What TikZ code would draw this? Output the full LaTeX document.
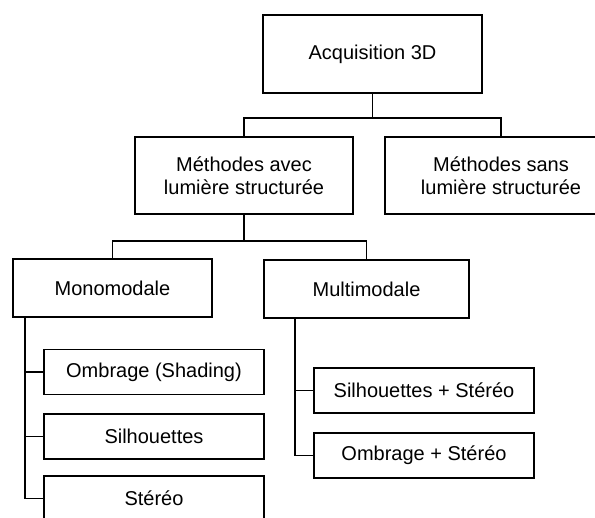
\documentclass[tikz,border=0pt]{standalone}
\usepackage{fontspec}
\setmainfont{Liberation Sans}
\usepackage{tikz}
\usetikzlibrary{positioning,calc}
\tikzstyle{box} = [rectangle, draw=black, line width=1.6pt, align=center, inner sep=0pt, font=\fontsize{20}{23}\selectfont]
\tikzstyle{leaf} = [box, minimum width=220pt, minimum height=45pt]
\tikzstyle{link} = [line width=1.6pt]

\begin{document}
\begin{tikzpicture}[x=1pt,y=-1pt]
\useasboundingbox (0,0) rectangle (595,518);
\node (acq) [box, minimum width=219pt, minimum height=78pt] at (372.5,54) {Acquisition 3D};
\node (avec) [box, minimum width=218pt, minimum height=77pt] at (244,175.5) {Méthodes avec\\lumière structurée};
\node (sans) [box, minimum width=232pt, minimum height=77pt] at (501,175.5) {Méthodes sans\\lumière structurée};
\node (mono) [box, minimum width=199pt, minimum height=58pt] at (112.5,288) {Monomodale};
\node (multi) [box, minimum width=205pt, minimum height=58pt] at (366.5,289) {Multimodale};
\node (ombr) [leaf] at (154,372) {Ombrage (Shading)};
\node (silh) [leaf] at (154,436.5) {Silhouettes};
\node (ster) [leaf] at (154,498.5) {Stéréo};
\node (silster) [leaf] at (424,390.5) {Silhouettes + Stéréo};
\node (ombster) [leaf] at (424,455.5) {Ombrage + Stéréo};
\draw[link] (acq.south) -- ++(0,24) -| (avec.north);
\draw[link] (acq.south) -- ++(0,24) -| (sans.north);
\draw[link] (avec.south) -- ++(0,26) -| (mono.north);
\draw[link] (avec.south) -- ++(0,26) -| (multi.north);
\draw[link] ([xshift=13pt]mono.south west) |- (ombr.west);
\draw[link] ([xshift=13pt]mono.south west) |- (silh.west);
\draw[link] ([xshift=13pt]mono.south west) |- (ster.west);
\draw[link] ([xshift=32pt]multi.south west) |- (silster.west);
\draw[link] ([xshift=32pt]multi.south west) |- (ombster.west);
\end{tikzpicture}
\end{document}
